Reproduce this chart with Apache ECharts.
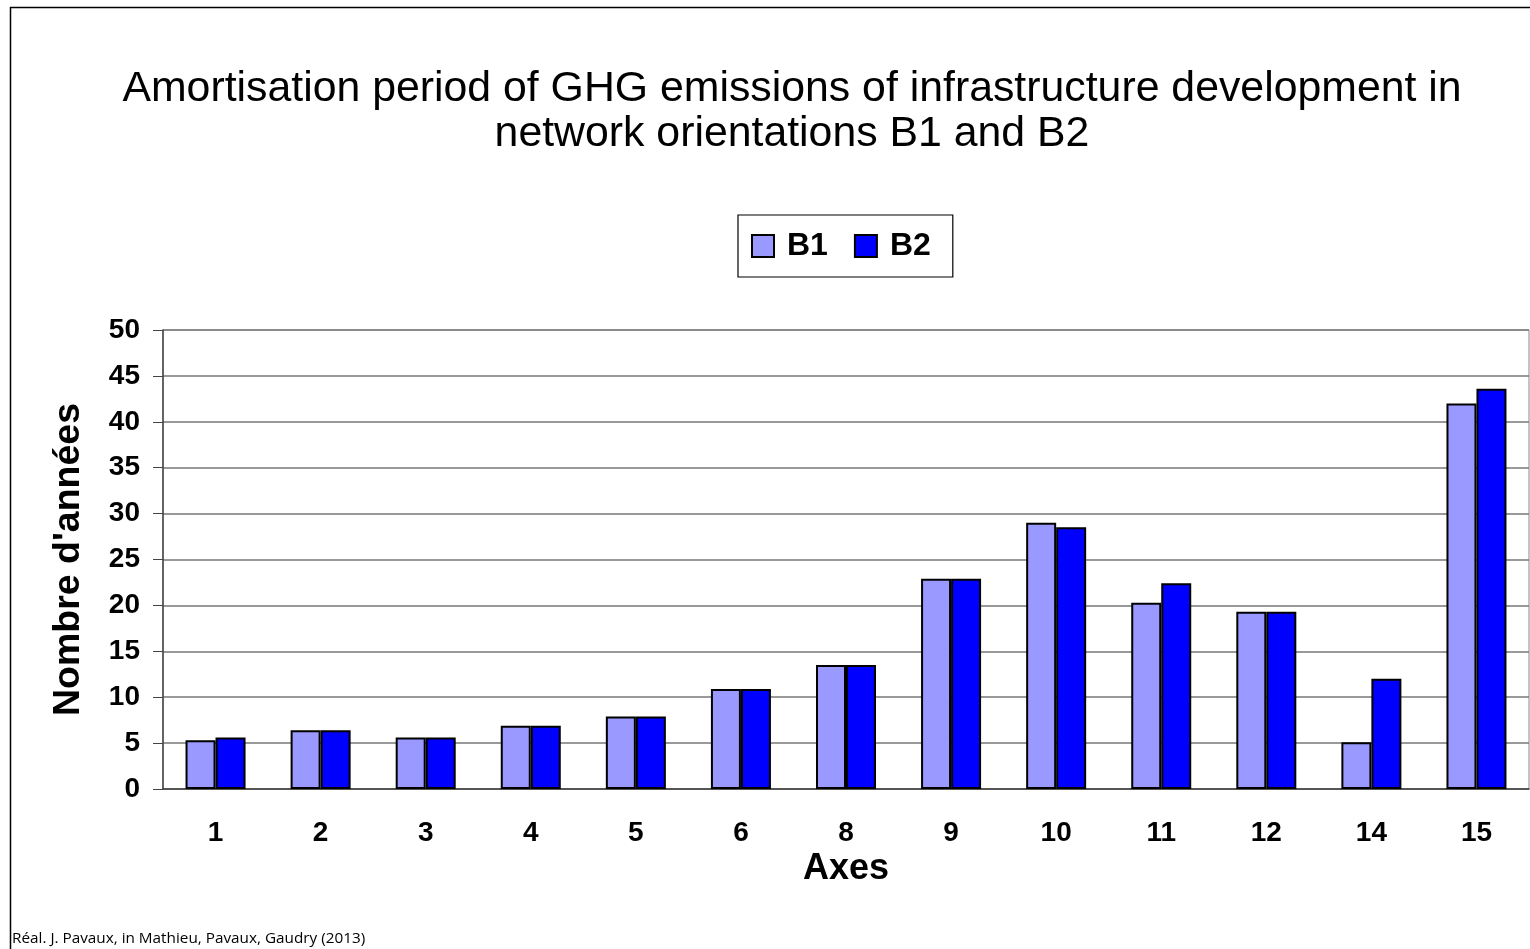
<!DOCTYPE html>
<html>
<head>
<meta charset="utf-8">
<script src="https://cdn.jsdelivr.net/npm/echarts@6/dist/echarts.min.js"></script>
<style>
  html, body { margin: 0; padding: 0; background: #fff; }
  #chart { width: 1530px; height: 949px; }
</style>
</head>
<body>
<div id="chart"></div>
<script>
// données
const axesLabels = ['1', '2', '3', '4', '5', '6', '8', '9', '10', '11', '12', '14', '15']
const b1Values = [5.3, 6.4, 5.6, 6.9, 7.9, 10.9, 13.5, 22.9, 29.0, 20.3, 19.3, 5.1, 42.0]
const b2Values = [5.6, 6.4, 5.6, 6.9, 7.9, 10.9, 13.5, 22.9, 28.5, 22.4, 19.3, 12.0, 43.6]
const yTicks = { min: 0, max: 50, interval: 5 }

const FONT = 'Liberation Sans, Arial, sans-serif'
const chart = echarts.init(document.getElementById('chart'))

const barStyle = (color) => ({
  color: color,
  borderColor: '#000',
  borderWidth: 2
})

const option = {
  backgroundColor: '#fff',
  animation: false,
  title: {
    text: 'Amortisation period of GHG emissions of infrastructure development in\nnetwork orientations B1 and B2',
    left: 787,
    top: 62,
    textAlign: 'center',
    textStyle: {
      fontFamily: FONT,
      fontSize: 42.8,
      fontWeight: 'normal',
      color: '#000',
      lineHeight: 45
    }
  },
  legend: {
    data: ['B1', 'B2'],
    left: 738,
    top: 215,
    padding: [15, 22, 15, 13],
    itemGap: 26,
    itemWidth: 22,
    itemHeight: 22,
    icon: 'rect',
    borderColor: '#000',
    borderWidth: 1.2,
    textStyle: {
      fontFamily: FONT,
      fontSize: 32,
      fontWeight: 'bold',
      color: '#000',
      padding: [0, 0, 0, 8]
    }
  },
  grid: {
    left: 163,
    right: 1,
    top: 330,
    bottom: 160,
    show: true,
    borderColor: '#888',
    borderWidth: 1
  },
  xAxis: {
    type: 'category',
    data: axesLabels,
    name: 'Axes',
    nameLocation: 'middle',
    nameGap: 62,
    nameTextStyle: {
      fontFamily: FONT,
      fontSize: 36,
      fontWeight: 'bold',
      color: '#000'
    },
    axisLine: { lineStyle: { color: '#444', width: 1.5 } },
    axisTick: { length: 8, lineStyle: { color: '#444' } },
    axisLabel: {
      margin: 30,
      fontFamily: FONT,
      fontSize: 28,
      fontWeight: 'bold',
      color: '#000'
    }
  },
  yAxis: {
    type: 'value',
    min: yTicks.min,
    max: yTicks.max,
    interval: yTicks.interval,
    name: "Nombre d'années",
    nameLocation: 'middle',
    nameGap: 75,
    nameTextStyle: {
      fontFamily: FONT,
      fontSize: 37.5,
      fontWeight: 'bold',
      color: '#000'
    },
    axisLine: { show: true, lineStyle: { color: '#444', width: 1.5 } },
    axisTick: { show: true, length: 10, lineStyle: { color: '#444' } },
    axisLabel: {
      margin: 23,
      fontFamily: FONT,
      fontSize: 28,
      fontWeight: 'bold',
      color: '#000'
    },
    splitLine: { lineStyle: { color: '#777', width: 1.5 } }
  },
  series: [
    {
      name: 'B1',
      type: 'bar',
      data: b1Values,
      barWidth: 30,
      barGap: '0%',
      itemStyle: barStyle('#9999ff')
    },
    {
      name: 'B2',
      type: 'bar',
      data: b2Values,
      barWidth: 30,
      barGap: '0%',
      itemStyle: barStyle('#0000ff')
    }
  ],
  graphic: [
    {
      type: 'rect',
      shape: { x: 10.5, y: 7.5, width: 1540, height: 960 },
      style: { fill: 'none', stroke: '#000', lineWidth: 1.5 },
      silent: true
    },
    {
      type: 'text',
      left: 12,
      top: 931,
      style: {
        text: 'Réal. J. Pavaux, in Mathieu, Pavaux, Gaudry (2013)',
        font: '15.3px "Open Sans", "Noto Sans", sans-serif',
        fill: '#000'
      }
    }
  ]
}

chart.setOption(option)
window.addEventListener('resize', () => chart.resize())
</script>
</body>
</html>
